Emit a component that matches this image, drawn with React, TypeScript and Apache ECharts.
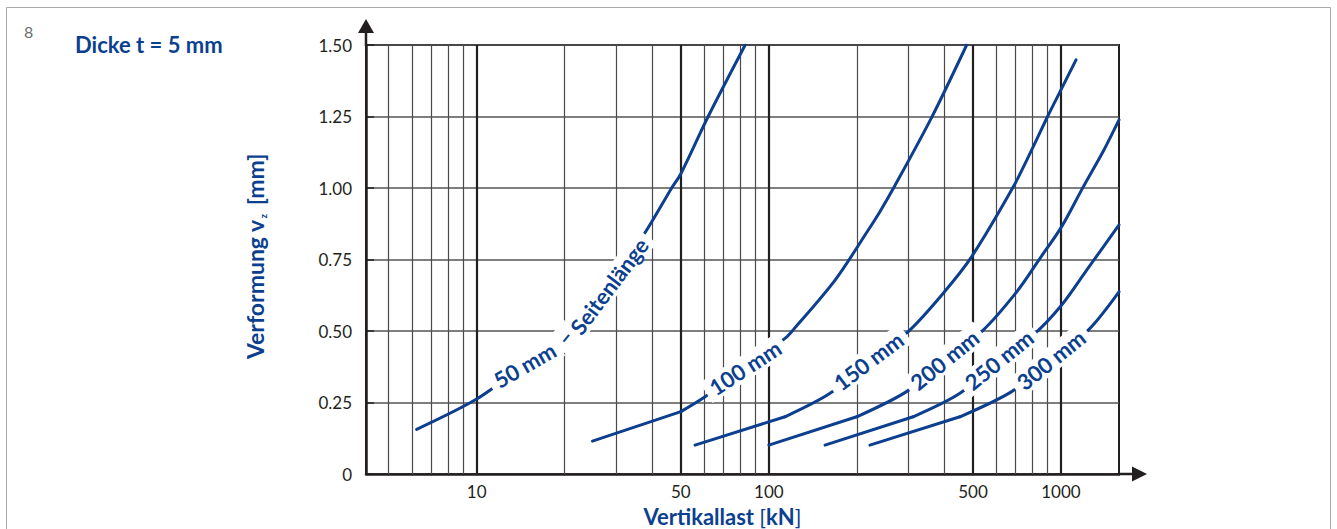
import React, { useEffect, useRef } from 'react';
import * as echarts from 'echarts';

const BLUE = '#0c3f8f';
const INK = '#231f20';
const FONT = 'Lato';

const X_MIN = 4.18;
const X_MAX = 1580;
const Y_MIN = 0;
const Y_MAX = 1.5;
const Y_STEP = 0.25;

const xLabelValues = [10, 50, 100, 500, 1000];
const majorGridX = [10, 50, 100, 500, 1000];
const minorGridX = [5, 6, 7, 8, 9, 20, 30, 40, 60, 70, 80, 90, 200, 300, 400, 600, 700, 800, 900];

const seriesNames = ['50 mm', '100 mm', '150 mm', '200 mm', '250 mm', '300 mm'];

// [Vertikallast kN, Verformung mm]
const curve50 = [[6.23, 0.156], [10, 0.262], [14.6, 0.381], [20.05, 0.479], [28.4, 0.657], [38.2, 0.853], [46.5, 1.0], [50, 1.05], [62, 1.25], [83, 1.5]];
const curve100 = [[24.9, 0.115], [50, 0.218], [60.5, 0.27], [82.9, 0.372], [113.6, 0.474], [121, 0.503], [168.6, 0.678], [219, 0.853], [240, 0.917], [266.7, 0.998], [361, 1.247], [475.5, 1.5]];
const curve150 = [[55.9, 0.101], [113.6, 0.2], [162, 0.282], [219.4, 0.395], [300, 0.498], [395.4, 0.632], [494.8, 0.76], [686.8, 1.004], [794, 1.133], [900, 1.25], [1000, 1.343], [1126, 1.448]];
const curve200 = [[100, 0.101], [200, 0.2], [296, 0.288], [399.3, 0.399], [535.3, 0.498], [705.4, 0.637], [847.5, 0.754], [1005.6, 0.865], [1192, 1.004], [1403, 1.133], [1580, 1.238]];
const curve250 = [[155.7, 0.101], [312, 0.2], [451, 0.282], [613.5, 0.399], [815, 0.492], [1005.6, 0.591], [1224.6, 0.713], [1580, 0.871]];
const curve300 = [[221.8, 0.101], [451, 0.2], [678, 0.288], [924.4, 0.399], [1240, 0.503], [1580, 0.637]];

const curves = [curve50, curve100, curve150, curve200, curve250, curve300];
// index of the sharp bend where the straight lower part meets the rising part
const bendIndex = [0, 1, 1, 1, 1, 1];

// labels written along the curves, anchored on curve points
const curveLabelText = [['50 mm', '–', 'Seitenlänge'], ['100 mm'], ['150 mm'], ['200 mm'], ['250 mm'], ['300 mm']];
const curveLabelAt = [
  [[14.6, 0.381], [20.05, 0.479], [28.4, 0.657]],
  [[82.9, 0.372]],
  [[219.4, 0.395]],
  [[399.3, 0.399]],
  [[613.5, 0.399]],
  [[924.4, 0.399]],
];

const titleText = 'Dicke t = 5 mm';
const pageNumber = '8';

export default function App() {
  const ref = useRef<HTMLDivElement>(null);

  useEffect(() => {
    if (!ref.current) return;
    const chart = echarts.init(ref.current, null, { renderer: 'svg' });

    const labelAngles = [[30, 50, 53], [33], [37], [39], [39], [39]];
    const lineStyle = { color: BLUE, width: 3, cap: 'round', join: 'round' };

    const gridLineData = [
      ...minorGridX.map((v) => ({ xAxis: v, lineStyle: { color: '#4a4a4a', width: 1.2, type: 'solid' } })),
      ...majorGridX.map((v) => ({ xAxis: v, lineStyle: { color: INK, width: 2.2, type: 'solid' } })),
    ];

    const series: any[] = [];
    curves.forEach((c, i) => {
      const k = bendIndex[i];
      if (k > 0) {
        series.push({
          name: seriesNames[i],
          type: 'line',
          data: c.slice(0, k + 1),
          showSymbol: false,
          symbol: 'none',
          z: 3,
          silent: true,
          lineStyle,
        });
      }
      series.push({
        name: seriesNames[i],
        type: 'line',
        data: c.slice(k),
        showSymbol: false,
        symbol: 'none',
        smooth: 0.3,
        z: 3,
        silent: true,
        lineStyle,
        markPoint: {
          z: 10,
          symbol: 'circle',
          symbolSize: 1,
          silent: true,
          itemStyle: { color: 'rgba(0,0,0,0)', borderWidth: 0 },
          data: curveLabelAt[i].map((p, j) => ({
            coord: p,
            value: curveLabelText[i][j],
            label: {
              show: true,
              position: 'inside',
              formatter: curveLabelText[i][j],
              rotate: labelAngles[i][j],
              color: BLUE,
              fontFamily: FONT,
              fontWeight: 'bold',
              fontSize: 22,
              backgroundColor: '#ffffff',
              padding: [1, 6],
            },
          })),
        },
      });
    });

    series.push({
      name: 'grid',
      type: 'line',
      data: [],
      z: 1,
      silent: true,
      markLine: {
        z: 1,
        silent: true,
        symbol: ['none', 'none'],
        label: { show: false },
        emphasis: { disabled: true },
        data: gridLineData,
      },
    });

    const option: any = {
      animation: false,
      backgroundColor: '#ffffff',
      textStyle: { fontFamily: FONT },
      grid: {
        left: 366,
        top: 45,
        right: 218,
        bottom: 55,
        containLabel: false,
        outerBoundsMode: 'none',
        show: true,
        borderColor: INK,
        borderWidth: 2,
        backgroundColor: 'transparent',
      },
      xAxis: {
        type: 'log',
        logBase: 10,
        min: X_MIN,
        max: X_MAX,
        name: '{b|Vertikallast }{r|[}{b|kN}{r|]}',
        nameLocation: 'middle',
        nameGap: 31,
        nameTextStyle: {
          padding: [0, 40, 0, 0],
          rich: {
            b: { fontFamily: FONT, fontWeight: 'bold', fontSize: 22, color: BLUE },
            r: { fontFamily: FONT, fontWeight: 'normal', fontSize: 22, color: BLUE },
          },
        },
        axisLine: { show: true, lineStyle: { color: INK, width: 2.5 } },
        axisTick: { show: false },
        splitLine: { show: false },
        minorSplitLine: { show: false },
        axisLabel: {
          customValues: xLabelValues,
          formatter: (v: number) => String(Math.round(v)),
          color: INK,
          fontFamily: FONT,
          fontSize: 17,
          margin: 9,
        },
      },
      yAxis: {
        type: 'value',
        min: Y_MIN,
        max: Y_MAX,
        interval: Y_STEP,
        name: '{b|Verformung v}{s|z}{b| [mm]}',
        nameLocation: 'middle',
        nameRotate: 90,
        nameGap: 98,
        nameTextStyle: {
          padding: [0, 0, 0, 6],
          rich: {
            b: { fontFamily: FONT, fontWeight: 'bold', fontSize: 23, color: BLUE, lineHeight: 26 },
            s: { fontFamily: FONT, fontWeight: 'bold', fontSize: 10, color: BLUE, verticalAlign: 'bottom', lineHeight: 26, padding: [0, 3, 0, 1] },
          },
        },
        axisLine: { show: true, lineStyle: { color: INK, width: 2.5 } },
        axisTick: { show: true, inside: true, length: 8, lineStyle: { color: INK, width: 1.5 } },
        splitLine: { show: true, lineStyle: { color: '#555555', width: 1.5 } },
        axisLabel: {
          formatter: (v: number) => (v === 0 ? '0' : v.toFixed(2)),
          color: INK,
          fontFamily: FONT,
          fontSize: 17,
          margin: 14,
        },
      },
      series,
    };

    chart.setOption(option);

    const pTop = chart.convertToPixel({ gridIndex: 0 }, [X_MIN, Y_MAX]) as number[];
    const pRight = chart.convertToPixel({ gridIndex: 0 }, [X_MAX, Y_MIN]) as number[];

    chart.setOption({
      graphic: [
        {
          type: 'rect',
          z: -10,
          silent: true,
          shape: { x: 6.5, y: 7.5, width: 1324, height: 540 },
          style: { fill: 'none', stroke: '#a7a9ac', lineWidth: 1 },
        },
        {
          type: 'text',
          left: 24,
          top: 23,
          silent: true,
          style: { text: pageNumber, fill: '#6d6e71', fontFamily: FONT, fontSize: 16 },
        },
        {
          type: 'text',
          left: 75,
          top: 33,
          silent: true,
          style: { text: titleText, fill: BLUE, fontFamily: FONT, fontWeight: 'bold', fontSize: 22 },
        },
        {
          type: 'line',
          silent: true,
          shape: { x1: pTop[0], y1: pTop[1] + 1, x2: pTop[0], y2: pTop[1] - 13 },
          style: { stroke: INK, lineWidth: 2.5 },
        },
        {
          type: 'polygon',
          silent: true,
          shape: { points: [[pTop[0] - 8, pTop[1] - 12], [pTop[0] + 8, pTop[1] - 12], [pTop[0], pTop[1] - 26]] },
          style: { fill: INK },
        },
        {
          type: 'line',
          silent: true,
          shape: { x1: pRight[0] - 1, y1: pRight[1], x2: pRight[0] + 15, y2: pRight[1] },
          style: { stroke: INK, lineWidth: 2.5 },
        },
        {
          type: 'polygon',
          silent: true,
          shape: { points: [[pRight[0] + 13, pRight[1] - 7.5], [pRight[0] + 13, pRight[1] + 7.5], [pRight[0] + 28, pRight[1]]] },
          style: { fill: INK },
        },
      ],
    });

    return () => {
      chart.dispose();
    };
  }, []);

  return (
    <div
      ref={ref}
      style={{ position: 'fixed', left: 0, top: 0, width: 1337, height: 529, background: '#ffffff' }}
    />
  );
}
